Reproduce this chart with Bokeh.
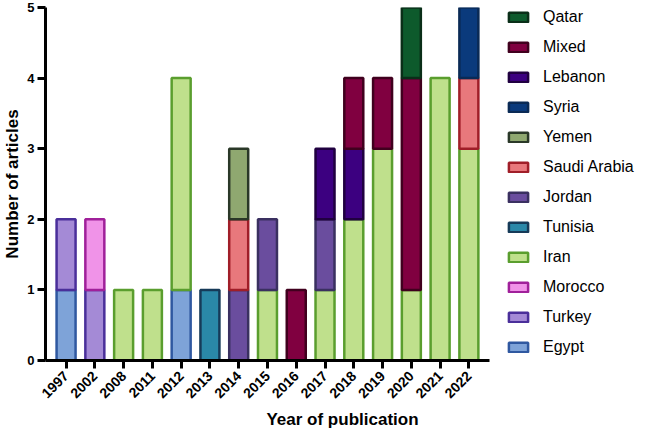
import math
from bokeh.plotting import figure
from bokeh.models import Range1d, FixedTicker, Legend, LegendItem, ColumnDataSource
from bokeh.embed import file_html
from bokeh.resources import INLINE

years = ["1997", "2002", "2008", "2011", "2012", "2013", "2014", "2015",
         "2016", "2017", "2018", "2019", "2020", "2021", "2022"]

# stacking order bottom -> top
countries = ["Egypt", "Turkey", "Morocco", "Iran", "Tunisia", "Jordan",
             "Saudi Arabia", "Yemen", "Syria", "Lebanon", "Mixed", "Qatar"]

egypt   = [1, 0, 0, 0, 1, 0, 0, 0, 0, 0, 0, 0, 0, 0, 0]
turkey  = [1, 1, 0, 0, 0, 0, 0, 0, 0, 0, 0, 0, 0, 0, 0]
morocco = [0, 1, 0, 0, 0, 0, 0, 0, 0, 0, 0, 0, 0, 0, 0]
iran    = [0, 0, 1, 1, 3, 0, 0, 1, 0, 1, 2, 3, 1, 4, 3]
tunisia = [0, 0, 0, 0, 0, 1, 0, 0, 0, 0, 0, 0, 0, 0, 0]
jordan  = [0, 0, 0, 0, 0, 0, 1, 1, 0, 1, 0, 0, 0, 0, 0]
saudi   = [0, 0, 0, 0, 0, 0, 1, 0, 0, 0, 0, 0, 0, 0, 1]
yemen   = [0, 0, 0, 0, 0, 0, 1, 0, 0, 0, 0, 0, 0, 0, 0]
syria   = [0, 0, 0, 0, 0, 0, 0, 0, 0, 0, 0, 0, 0, 0, 1]
lebanon = [0, 0, 0, 0, 0, 0, 0, 0, 0, 1, 1, 0, 0, 0, 0]
mixed   = [0, 0, 0, 0, 0, 0, 0, 0, 1, 0, 1, 1, 3, 0, 0]
qatar   = [0, 0, 0, 0, 0, 0, 0, 0, 0, 0, 0, 0, 1, 0, 0]

values = [egypt, turkey, morocco, iran, tunisia, jordan, saudi, yemen,
          syria, lebanon, mixed, qatar]

fills = ["#7ea3d8", "#a48ad6", "#f093e8", "#bfe08c", "#2a88a8", "#6a4d9e",
         "#e8787c", "#8fa870", "#0a3a7c", "#3c0080", "#800040", "#0d5a2c"]
borders = ["#2f58a0", "#4a2f9a", "#a0209a", "#5a9e2e", "#163a58", "#3a3060",
           "#a01e28", "#2a3828", "#0a2a55", "#200040", "#40001e", "#0a2e18"]

FONT = "Liberation Sans"

# the frame extends to the right edge so the legend can sit inside it;
# the x axis line is bounded to the bar area
p = figure(width=639, height=431,
           x_range=Range1d(-0.715, 19.93), y_range=Range1d(0, 5),
           output_backend="svg", toolbar_location=None,
           min_border_left=40, min_border_right=0,
           min_border_top=7, min_border_bottom=68)
p.outline_line_color = None
p.xgrid.visible = False
p.ygrid.visible = False

base = [0] * len(years)
renderers = []
for name, vals, fc, lc in zip(countries, values, fills, borders):
    xs, bots, tops = [], [], []
    for i, v in enumerate(vals):
        if v > 0:
            xs.append(i)
            bots.append(base[i])
            tops.append(base[i] + v)
        base[i] += v
    src = ColumnDataSource(dict(x=xs, bottom=bots, top=tops))
    r = p.vbar(x="x", bottom="bottom", top="top", width=0.66, source=src,
               fill_color=fc, line_color=lc, line_width=2.5)
    renderers.append((name, r))

items = [LegendItem(label=n, renderers=[r]) for n, r in reversed(renderers)]
legend = Legend(items=items, location=(461, 3), ncols=1,
                glyph_width=24, glyph_height=12, label_standoff=13,
                label_text_font=FONT, label_text_font_size="16px",
                label_text_color="black",
                label_height=20, spacing=10, padding=0, margin=0,
                border_line_alpha=0, background_fill_alpha=0)
p.add_layout(legend)

# axes
for ax in (p.xaxis[0], p.yaxis[0]):
    ax.axis_line_width = 3
    ax.axis_line_color = "black"
    ax.major_tick_line_width = 3
    ax.major_tick_line_color = "black"
    ax.major_tick_out = 8
    ax.major_tick_in = 0
    ax.minor_tick_line_color = None
    ax.major_label_text_font = FONT
    ax.major_label_text_font_style = "bold"
    ax.major_label_text_color = "black"
    ax.axis_label_text_font = FONT
    ax.axis_label_text_font_style = "bold"
    ax.axis_label_text_font_size = "17px"
    ax.axis_label_text_color = "black"

p.xaxis.bounds = (-0.715, 14.70)
p.xaxis.ticker = FixedTicker(ticks=list(range(len(years))))
p.xaxis.major_label_overrides = {i: y for i, y in enumerate(years)}
p.xaxis.major_label_orientation = math.pi / 4
p.xaxis.major_label_text_font_size = "14px"
p.xaxis.major_label_standoff = 5
p.xaxis.axis_label = "Year of publication"
p.xaxis.axis_label_standoff = 4

p.yaxis.ticker = FixedTicker(ticks=[0, 1, 2, 3, 4, 5])
p.yaxis.major_label_text_font_size = "13px"
p.yaxis.major_label_standoff = 3
p.yaxis.axis_label = "Number of articles"
p.yaxis.axis_label_standoff = 2

open("out.html", "w").write(file_html(p, INLINE))
